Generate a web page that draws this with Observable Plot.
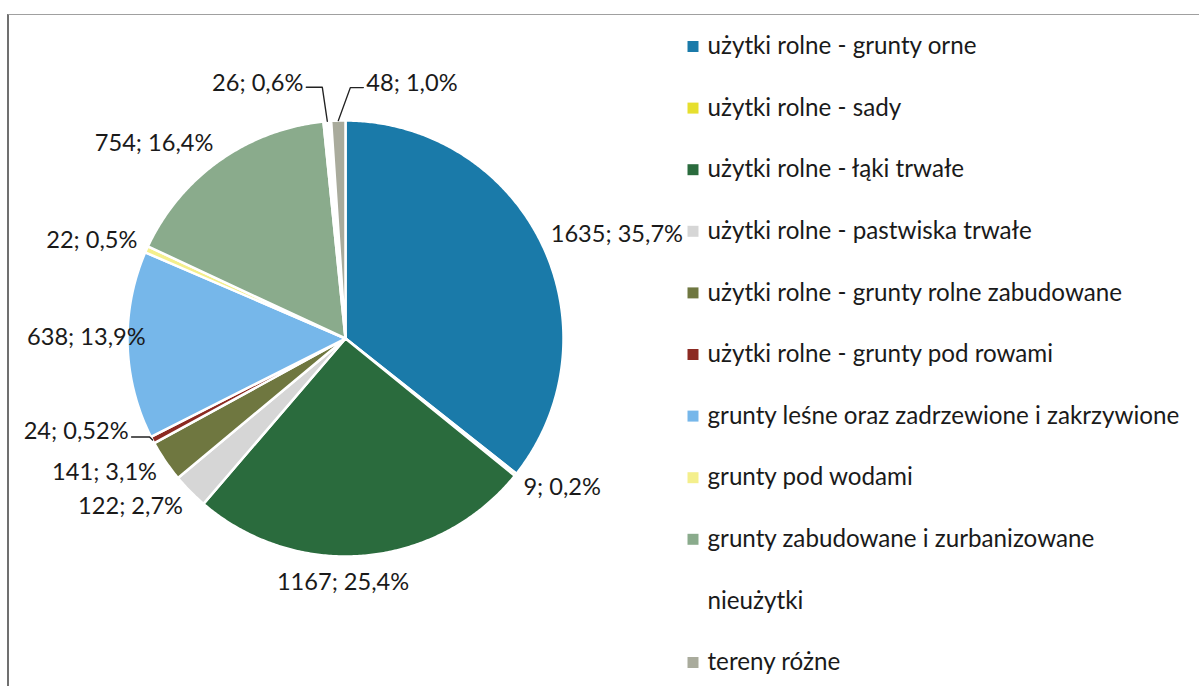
<!DOCTYPE html>
<html><head><meta charset="utf-8">
<script src="https://cdn.jsdelivr.net/npm/d3@7"></script>
<script src="https://cdn.jsdelivr.net/npm/@observablehq/plot@0.6"></script>
<style>
body{margin:0;background:#fff;}
#frame{position:absolute;left:7px;top:14px;width:1192px;height:672px;border-top:1px solid #a0a0a0;border-left:2px solid #707070;box-sizing:border-box;}
#chart{position:absolute;left:0;top:0;}
</style></head><body>
<div id="frame"></div><div id="chart"></div>
<script>
// ---- data ----
const categories = [
  "użytki rolne - grunty orne",
  "użytki rolne - sady",
  "użytki rolne - łąki trwałe",
  "użytki rolne - pastwiska trwałe",
  "użytki rolne - grunty rolne zabudowane",
  "użytki rolne - grunty pod rowami",
  "grunty leśne oraz zadrzewione i zakrzywione",
  "grunty pod wodami",
  "grunty zabudowane i zurbanizowane",
  "nieużytki",
  "tereny różne"
];
const values = [1635, 9, 1167, 122, 141, 24, 638, 22, 754, 26, 48];
const percentLabels = ["35,7%", "0,2%", "25,4%", "2,7%", "3,1%", "0,52%", "13,9%", "0,5%", "16,4%", "0,6%", "1,0%"];
const colors = ["#1a7aa9", "#e6df2e", "#2a6b3d", "#d6d6d6", "#6f7740", "#8c2a22", "#76b7ea", "#f4ef8c", "#8aab8c", "#ffffff", "#a9ab9c"];

// ---- layout ----
const W = 1199, H = 686;
const CX = 345, CY = 338, R = 218;
const FONT = "Lato, 'Open Sans', sans-serif";
const FS_LABEL = 23.6, FS_LEGEND = 24.2;
const toU = px => (px - CX) / R;
const toV = py => (CY - py) / R;

const total = d3.sum(values);
let acc = 0;
const slices = values.map((v, i) => {
  const a0 = acc / total * 2 * Math.PI; acc += v;
  const a1 = acc / total * 2 * Math.PI;
  return {i, name: categories[i], value: v, a0, a1, mid: (a0 + a1) / 2};
});

// slice outlines (polygon points derived from the angles)
const slicePts = [];
for (const s of slices) {
  slicePts.push({name: s.name, u: 0, v: 0});
  const n = Math.max(2, Math.ceil((s.a1 - s.a0) / (Math.PI / 360)));
  for (let k = 0; k <= n; k++) {
    const a = s.a0 + (s.a1 - s.a0) * k / n;
    slicePts.push({name: s.name, u: Math.sin(a), v: Math.cos(a)});
  }
}

// labels: placed just outside the arc at mid-angle; a few nudged like the original
const overrides = {
  2: {dx: -22, dy: 27, anchor: "middle"},
  5: {dx: -24, dy: -9, anchor: "end", leader: true},
  6: {dx: 18, dy: -8, anchor: "end"},
  9: {dx: -24, dy: -38, anchor: "end", leader: true},
  10: {dx: 28, dy: -37, anchor: "start", leader: true}
};
const labels = slices.map(s => {
  const sx = Math.sin(s.mid), sy = -Math.cos(s.mid);
  const px = CX + R * sx, py = CY + R * sy;
  let o = overrides[s.i];
  if (!o) o = {dx: 10 * sx, dy: 12 * sy + 9 * sy, anchor: sx > 0.15 ? "start" : sx < -0.15 ? "end" : "middle"};
  return {i: s.i, px, py, lx: px + o.dx, ly: py + o.dy, anchor: o.anchor, leader: !!o.leader,
          text: `${values[s.i]}; ${percentLabels[s.i]}`};
});
const leaderPts = [];
for (const l of labels.filter(d => d.leader)) {
  const sgn = l.anchor === "end" ? 1 : -1;
  const ey = l.ly + (l.i === 5 ? 6 : 4);
  const pts = [[l.lx + sgn * 3, ey], [l.px - sgn * (l.i === 5 ? 3 : l.i === 9 ? 5 : 12), ey], [l.px, l.py]];
  for (const [x, y] of pts) leaderPts.push({id: l.i, u: toU(x), v: toV(y)});
}

// legend rows
const legend = categories.map((c, i) => ({name: c, i, swatch: colors[i] !== "#ffffff",
  u: toU(692.5), tu: toU(707), v: toV(46 + i * 61.6)}));

const textOpts = a => ({x: "u", y: "v", text: "text", textAnchor: a, fontSize: FS_LABEL, fontFamily: FONT, fill: "#1a1a1a"});

const plot = Plot.plot({
  width: W, height: H,
  marginTop: 0, marginRight: 0, marginBottom: 0, marginLeft: 0,
  x: {domain: [-1, 1], range: [CX - R, CX + R], axis: null},
  y: {domain: [-1, 1], range: [CY + R, CY - R], axis: null},
  color: {domain: categories, range: colors},
  style: {background: "transparent", overflow: "visible"},
  marks: [
    Plot.line(slicePts, {x: "u", y: "v", z: "name", fill: "name", stroke: "white", strokeWidth: 2.5, strokeLinejoin: "round", curve: "linear-closed"}),
    Plot.line(leaderPts, {x: "u", y: "v", z: "id", stroke: "#222", strokeWidth: 1.4}),
    ...["start", "middle", "end"].map(a =>
      Plot.text(labels.filter(d => d.anchor === a).map(d => ({...d, u: toU(d.lx), v: toV(d.ly)})), textOpts(a))),
    Plot.dot(legend.filter(d => d.swatch), {x: "u", y: "v", fill: "name", symbol: "square", r: 6.2, stroke: "none"}),
    Plot.text(legend, {x: "tu", y: "v", text: "name", textAnchor: "start", fontSize: FS_LEGEND, fontFamily: FONT, fill: "#1a1a1a"})
  ]
});
document.getElementById("chart").appendChild(plot);
</script>
</body></html>
